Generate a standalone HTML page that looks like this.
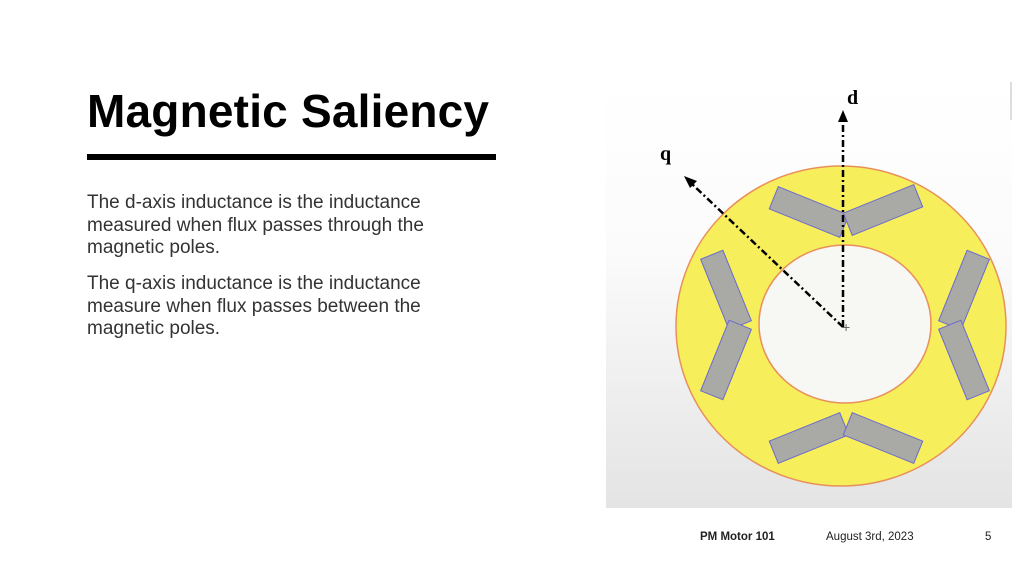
<!DOCTYPE html>
<html><head><meta charset="utf-8"><style>
body{margin:0;width:1024px;height:576px;background:#fff;position:relative;overflow:hidden;font-family:"Liberation Sans",Arial,sans-serif}
.t{position:absolute;left:87px;top:84px;font-size:46px;font-weight:bold;color:#000;letter-spacing:0.2px}
.bar{position:absolute;left:87px;top:154px;width:409px;height:6px;background:#000}
.p{position:absolute;left:87px;font-size:19px;line-height:22.5px;color:#333;width:400px}
.f{position:absolute;top:531px;font-size:11.5px;color:#222}
</style></head><body>
<div class="t">Magnetic Saliency</div>
<div class="bar"></div>
<div class="p" style="top:192px">The d-axis inductance is the inductance measured when flux passes through the magnetic poles.</div>
<div class="p" style="top:273px">The q-axis inductance is the inductance measure when flux passes between the magnetic poles.</div>
<div class="f" style="left:700px;font-weight:bold">PM Motor 101</div>
<div class="f" style="left:826px">August 3rd, 2023</div>
<div class="f" style="left:985px">5</div>
<svg style="position:absolute;left:0;top:0" width="1024" height="576">
<defs><linearGradient id="g" x1="0" y1="0" x2="0" y2="1">
<stop offset="0" stop-color="#fff"/><stop offset="0.4" stop-color="#fbfbfb"/><stop offset="1" stop-color="#e4e4e4"/></linearGradient></defs>
<rect x="606" y="80" width="406" height="428" fill="url(#g)"/>
<line x1="1011" y1="82" x2="1011" y2="120" stroke="#ddd" stroke-width="2"/>
<ellipse cx="841" cy="326" rx="165" ry="160" fill="#f6ee5a" stroke="#e8905a" stroke-width="1.5"/>
<ellipse cx="845" cy="324" rx="86" ry="79" fill="#f7f7f4" stroke="#e8905a" stroke-width="1.5"/>
<g fill="#a9a9a6" stroke="#6a6ad0" stroke-width="1">
<rect x="771" y="200" width="76" height="24" transform="rotate(22 809 212)"/>
<rect x="845" y="198" width="76" height="24" transform="rotate(-22 883 210)"/>
<rect x="771" y="426" width="76" height="24" transform="rotate(-22 809 438)"/>
<rect x="845" y="426" width="76" height="24" transform="rotate(22 883 438)"/>
<rect x="714" y="252" width="24" height="76" transform="rotate(-22 726 290)"/>
<rect x="714" y="322" width="24" height="76" transform="rotate(22 726 360)"/>
<rect x="952" y="252" width="24" height="76" transform="rotate(22 964 290)"/>
<rect x="952" y="322" width="24" height="76" transform="rotate(-22 964 360)"/>
</g>
<g stroke="#000" stroke-width="2.5" stroke-dasharray="7,3,2,3" fill="none">
<line x1="843" y1="327" x2="843" y2="122"/>
<line x1="843" y1="327" x2="692" y2="184"/>
</g>
<polygon points="843,110 838,122 848,122" fill="#000"/>
<polygon points="684,176 697,181 690,188" fill="#000"/>
<text x="842" y="332" font-size="14" fill="#666">+</text>
<text x="847" y="104" font-family="Liberation Serif,serif" font-weight="bold" font-size="20">d</text>
<text x="660" y="160" font-family="Liberation Serif,serif" font-weight="bold" font-size="20">q</text>
</svg>
</body></html>
